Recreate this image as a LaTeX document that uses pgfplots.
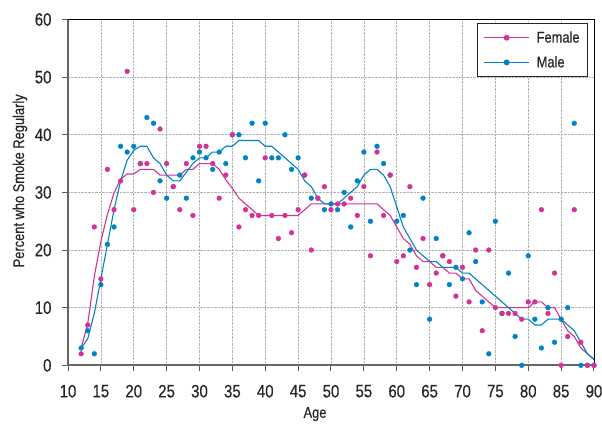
\documentclass[border=0pt]{standalone}
\usepackage{fontspec}
\setmainfont[FakeStretch=0.83,FakeBold=0.4]{Liberation Sans}
\usepackage{pgfplots}
\pgfplotsset{compat=1.18}
\definecolor{fem}{RGB}{212,50,148}
\definecolor{mal}{RGB}{0,130,200}
\begin{document}
\begin{tikzpicture}
\begin{axis}[
  at={(0pt,0pt)}, anchor=south west,
  scale only axis, width=526pt, height=345.8pt,
  xmin=10, xmax=90, ymin=0, ymax=60,
  xtick={10,15,...,90}, ytick={0,10,...,60},
  grid=major,
  major grid style={densely dotted, color=black!30, line width=0.7pt},
  axis line style={draw=none},
  clip=false,
  tick align=outside, tick pos=left,
  major tick length=6pt,
  tick style={color=black!65, line width=1pt},
  ticklabel style={font=\fontsize{18}{20}\selectfont, color=black!85},
  xticklabel style={yshift=-10pt},
  yticklabel style={xshift=-7pt},
  /pgf/number format/assume math mode=true,
  legend style={at={(0.9886,0.99)}, anchor=north east, draw=black!85, line width=0.8pt, fill=white,
    font=\fontsize{15.5}{18}\selectfont, text=black!85, inner xsep=6pt, inner ysep=6pt, row sep=8pt,
    cells={anchor=west}, /tikz/every odd column/.append style={column sep=5pt}},
  legend image code/.code={
    \draw[#1] (0pt,0pt) -- (45pt,0pt);
    \fill[#1] (22.5pt,0pt) circle (2.4pt);
  },
]
% axis lines
\draw[black!60, line width=2pt] (rel axis cs:0,1) -- (rel axis cs:0,0) -- (rel axis cs:1,0);
\draw[black, line width=0.9pt] (rel axis cs:0,1) -- (rel axis cs:1,1) -- (rel axis cs:1,0);

% Female smoothed line
\addplot[color=fem, line width=1.1pt, mark=none] coordinates {
(12,3)(13,7.2)(14,15.4)(15,21.5)(16,26.2)(17,29.9)(18,32.3)(19,33.2)(20,33.2)(21,34)(22,34)(23,34)
(24,33)(25,33)(26,33)(27,33)(28,34)(29,34)(30,35)(31,35)(32,35)(33,34)(34,32.2)(35,30.7)
(36,29)(37,28)(38,27)(39,26)(40,26)(41,26)(42,26)(43,26)(44,26)(45,26)(46,27)(47,28)(48,28)
(49,28)(50,28)(51,28)(52,28)(53,28)(54,28)(55,28)(56,28)(57,28)(58,27)(59,26)(60,24)(61,22)
(62,21)(63,19)(64,18)(65,18)(66,17)(67,17)(68,16)(69,16)(70,15)(71,15)(72,13)(73,12)(74,11)
(75,10)(76,10)(77,10)(78,10)(79,10)(80,10)(81,11)(82,11)(83,10)(84,10)(85,8)(86,6)(87,5)
(88,3)(89,2)(90,1)};
\addlegendentry{Female}
% Male smoothed line
\addplot[color=mal, line width=1.1pt, mark=none] coordinates {
(12,3)(13,4.6)(14,9)(15,15)(16,21)(17,27)(18,32)(19,35.6)(20,37.3)(21,38)(22,38)(23,36)
(24,35)(25,33)(26,32)(27,32)(28,33.5)(29,35)(30,36)(31,36)(32,37)(33,37)(34,38)(35,38)
(36,39)(37,39)(38,39)(39,39)(40,38)(41,38)(42,37)(43,36)(44,35)(45,34)(46,32)(47,31)(48,29)
(49,28)(50,28)(51,28)(52,29)(53,30)(54,31)(55,33)(56,34)(57,34)(58,33)(59,31)(60,27.5)(61,24)
(62,22)(63,20)(64,19)(65,18)(66,18)(67,17)(68,17)(69,17)(70,16)(71,16)(72,15)(73,14)(74,13)
(75,12)(76,11)(77,10)(78,9)(79,8)(80,8)(81,7)(82,7)(83,8)(84,8)(85,8)(86,7)(87,6)
(88,4)(89,2)(90,1)};
\addlegendentry{Male}

% Male points
\addplot[only marks, mark=*, mark size=2.4pt, color=mal, forget plot] coordinates {
(12,3)(13,6)(14,2)(15,14)(16,21)(17,24)(18,38)(19,37)(20,38)(21,35)(22,43)(23,42)(24,32)
(25,29)(26,31)(27,33)(28,29)(29,36)(30,37)(31,36)(32,34)(33,37)(34,35)(35,40)(36,40)(37,36)
(38,42)(39,32)(40,42)(41,36)(42,36)(43,40)(44,34)(45,36)(46,33)(47,29)(48,29)(49,27)(50,28)
(51,27)(52,30)(53,24)(54,32)(55,37)(56,25)(57,38)(58,35)(59,33)(60,25)(61,26)(62,20)(63,14)
(64,29)(65,8)(66,22)(67,19)(68,14)(69,17)(70,15)(71,23)(72,18)(73,11)(74,2)(75,25)(76,9)
(77,16)(78,5)(79,0)(80,19)(81,8)(82,3)(83,10)(84,4)(85,8)(86,10)(87,42)(88,0)(89,0)(90,0)};
% Female points
\addplot[only marks, mark=*, mark size=2.4pt, color=fem, forget plot] coordinates {
(12,2)(13,7)(14,24)(15,15)(16,34)(17,27)(18,32)(19,51)(20,27)(21,35)(22,35)(23,30)(24,41)
(25,35)(26,31)(27,27)(28,35)(29,26)(30,38)(31,38)(32,35)(33,29)(34,33)(35,40)(36,24)(37,27)
(38,26)(39,26)(40,36)(41,26)(42,22)(43,26)(44,23)(45,27)(46,33)(47,20)(48,29)(49,31)(50,27)
(51,28)(52,28)(53,29)(54,26)(55,31)(56,19)(57,37)(58,26)(59,33)(60,18)(61,19)(62,31)(63,17)
(64,22)(65,14)(66,16)(67,19)(68,18)(69,12)(70,17)(71,11)(72,20)(73,6)(74,20)(75,10)(76,9)
(77,9)(78,9)(79,8)(80,11)(81,11)(82,27)(83,9)(84,16)(85,0)(86,5)(87,27)(88,4)(89,0)(90,0)};
\end{axis}
\node[rotate=90, font=\fontsize{15.5}{18}\selectfont, text=black!85, anchor=center, inner sep=0pt] at (-48pt,184.5pt) {Percent who Smoke Regularly};
\node[font=\fontsize{15.5}{18}\selectfont, text=black!85, anchor=base, inner sep=0pt] at (247pt,-52.5pt) {Age};
\pgfresetboundingbox
\path[use as bounding box] (-68pt,-57.7pt) rectangle (534pt,365.3pt);
\end{tikzpicture}
\end{document}
